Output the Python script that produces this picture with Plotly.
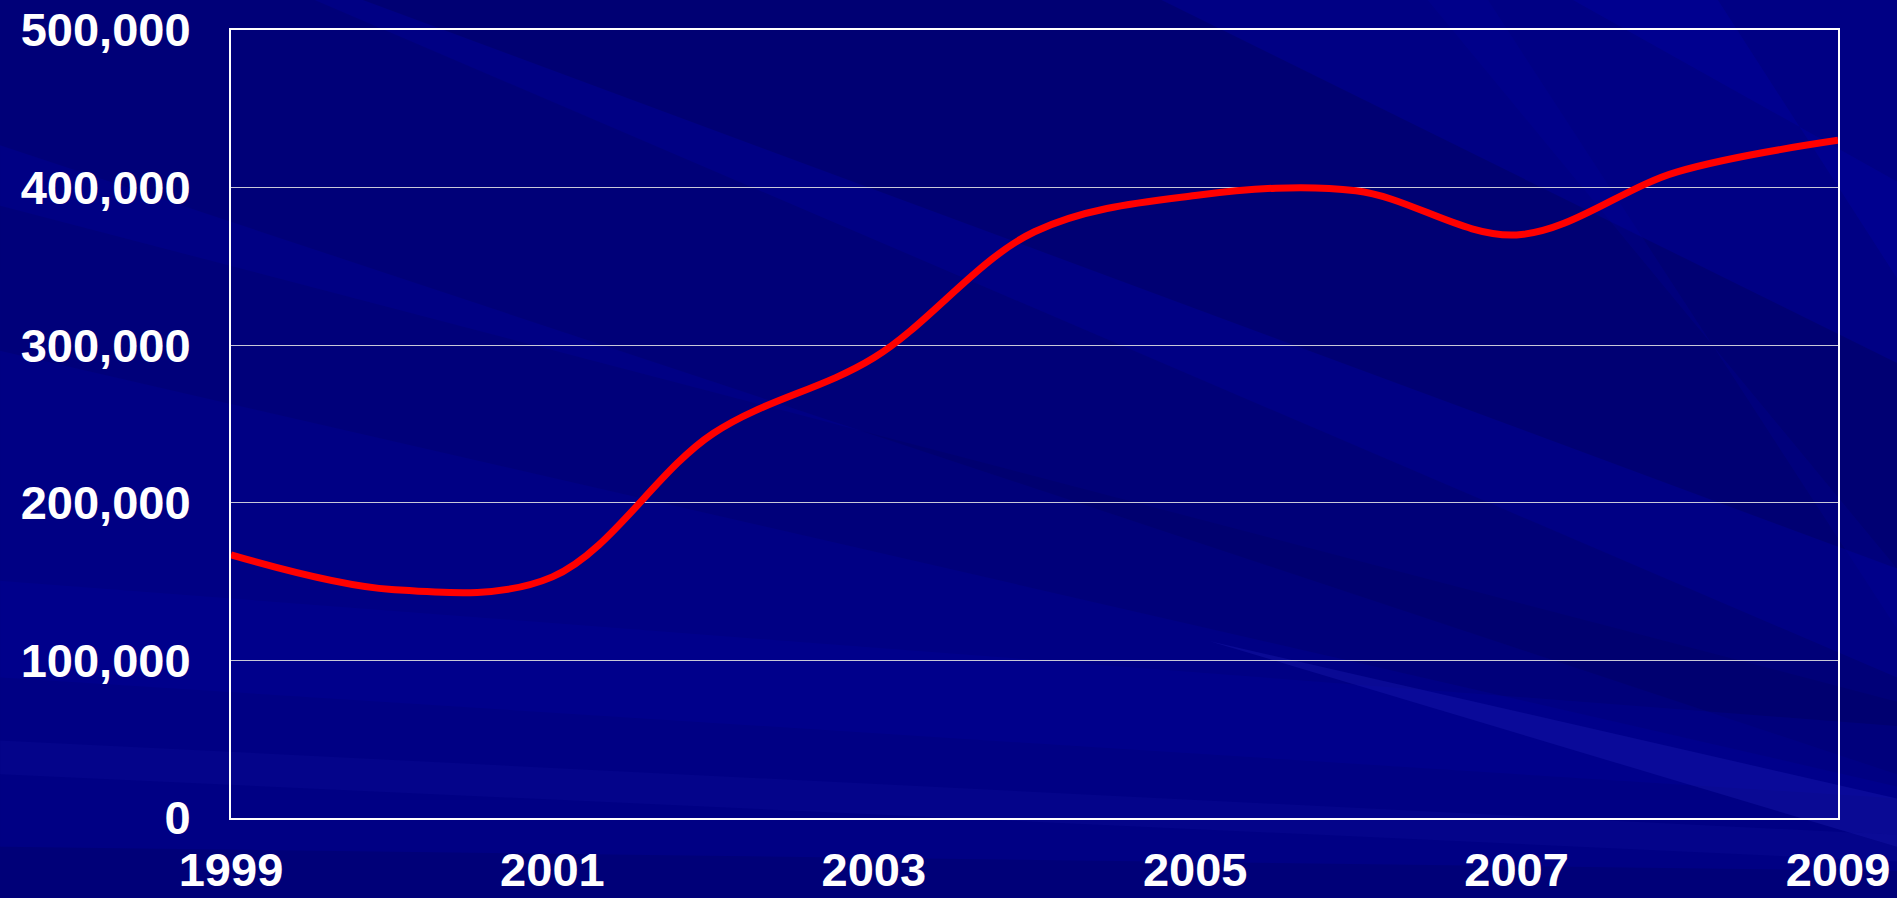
import plotly.graph_objects as go

years = [1999, 2000, 2001, 2002, 2003, 2004, 2005, 2006, 2007, 2008, 2009]
values = [167000, 145000, 153000, 244000, 292000, 372000, 395000, 398000, 370000, 410000, 430000]
x_ticks = [1999, 2001, 2003, 2005, 2007, 2009]
y_ticks = [0, 100000, 200000, 300000, 400000, 500000]
y_labels = ["0", "100,000", "200,000", "300,000", "400,000", "500,000"]

W, H = 1897, 898
L, R, T, B = 231, 1838, 30, 818
S = W / 1568.0  # display -> original scale


def to_paper(pts):
    out = []
    for (dx, dy) in pts:
        px, py = dx * S, dy * S
        out.append(((px - L) / (R - L), (B - py) / (B - T)))
    return out


def poly(pts, color, op):
    pp = to_paper(pts)
    path = "M " + " L ".join(f"{x:.4f},{y:.4f}" for x, y in pp) + " Z"
    return dict(type="path", xref="paper", yref="paper", path=path,
                fillcolor=color, opacity=op, line=dict(width=0), layer="below")


shapes = [
    poly([(0, 0), (1568, 0), (1568, 742), (0, 742)], "#000084", 1.0),
    poly([(0, 0), (260, 0), (1568, 560), (1568, 640), (0, 120)], "#000058", 0.28),
    poly([(300, 0), (960, 0), (1568, 300), (1568, 470)], "#000050", 0.32),
    poly([(0, 170), (0, 290), (1568, 650), (1568, 580)], "#000050", 0.18),
    poly([(0, 480), (0, 560), (1568, 660), (1568, 600)], "#0000A0", 0.25),
    poly([(1000, 530), (1568, 660), (1568, 700)], "#2020B8", 0.30),
    poly([(0, 612), (0, 640), (1568, 712), (1568, 690)], "#1010A0", 0.22),
    poly([(1300, 0), (1420, 0), (1568, 230), (1568, 150)], "#0000A8", 0.30),
    poly([(1180, 0), (1230, 0), (1568, 520), (1568, 470)], "#0000A0", 0.22),
    poly([(0, 700), (1568, 720), (1568, 742), (0, 742)], "#000060", 0.35),
]

font = dict(family="Liberation Sans, Arial, sans-serif", size=47, color="white", weight="bold")

fig = go.Figure()
fig.add_trace(go.Scatter(
    x=years, y=values, mode="lines",
    line=dict(color="#FF0000", width=7, shape="spline", smoothing=1.0),
    hoverinfo="skip", showlegend=False,
))

fig.update_layout(
    width=W, height=H,
    margin=dict(l=L, r=W - R, t=T, b=H - B, autoexpand=False),
    paper_bgcolor="#000080",
    plot_bgcolor="rgba(0,0,0,0)",
    shapes=shapes,
    showlegend=False,
    xaxis=dict(
        range=[1999, 2009], tickvals=x_ticks, ticktext=[str(v) for v in x_ticks],
        showgrid=False, zeroline=False, showline=True, linecolor="white", linewidth=2,
        mirror=True, ticks="outside", ticklen=10, tickcolor="rgba(0,0,0,0)",
        tickfont=font, automargin=False,
    ),
    yaxis=dict(
        range=[0, 500000], tickvals=y_ticks, ticktext=y_labels,
        showgrid=True, gridcolor="#C8C8D8", gridwidth=1, zeroline=False,
        showline=True, linecolor="white", linewidth=2, mirror=True,
        ticks="outside", ticklen=29, tickcolor="rgba(0,0,0,0)",
        tickfont=font, automargin=False,
    ),
)

fig.write_html(
    "out.html",
    config={"displayModeBar": False},
    post_script="document.body.style.margin='0';document.body.style.overflow='hidden';document.body.style.background='#000080';",
)
